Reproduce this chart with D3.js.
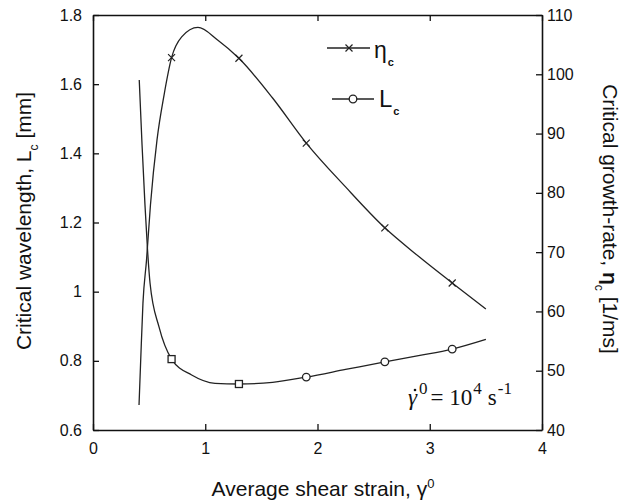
<!DOCTYPE html>
<html>
<head>
<meta charset="utf-8">
<script src="https://cdn.jsdelivr.net/npm/d3@7"></script>
<style>
  body { margin: 0; background: #fff; }
  text { font-family: "Liberation Sans", Arial, sans-serif; fill: #111; }
</style>
</head>
<body>
<script>
'use strict';

// critical growth-rate (right axis, 1/ms)
const etaStrain = [0.41, 0.425, 0.445, 0.477, 0.512, 0.57, 0.633, 0.7, 0.79, 0.935, 1.11, 1.3, 1.6, 1.9, 2.25, 2.6, 2.9, 3.2, 3.5];
const etaValues = [44.2, 51.8, 61.4, 68.7, 78.0, 88.9, 96.5, 102.8, 106.3, 107.9, 105.8, 102.7, 96.0, 88.4, 81.0, 74.1, 69.3, 64.8, 60.4];

// critical wavelength (left axis, mm)
const lcStrain = [0.412, 0.437, 0.463, 0.486, 0.508, 0.588, 0.7, 0.879, 1.087, 1.3, 1.6, 1.9, 2.25, 2.6, 2.9, 3.2, 3.5];
const lcValues = [1.612, 1.424, 1.251, 1.120, 1.025, 0.898, 0.805, 0.759, 0.735, 0.733, 0.738, 0.753, 0.775, 0.797, 0.815, 0.834, 0.862];

// points that carry a symbol
const markerStrain = [0.7, 1.3, 1.9, 2.6, 3.2];
const lcMarkerShape = ['square', 'square', 'circle', 'circle', 'circle'];

const xTicks = [0, 1, 2, 3, 4];
const xTickLabels = ['0', '1', '2', '3', '4'];
const leftTicks = [0.6, 0.8, 1.0, 1.2, 1.4, 1.6, 1.8];
const leftTickLabels = ['0.6', '0.8', '1', '1.2', '1.4', '1.6', '1.8'];
const rightTicks = [40, 50, 60, 70, 80, 90, 100, 110];
const rightTickLabels = ['40', '50', '60', '70', '80', '90', '100', '110'];

let margin = { top: 15, right: 79, bottom: 73, left: 93 };
let width = 621 - margin.left - margin.right;
let height = 503 - margin.top - margin.bottom;

let svg = d3.select('body')
    .append('svg')
    .attr('width', 621)
    .attr('height', 503);

let xScale = d3.scaleLinear().domain([0, 4]).range([margin.left, margin.left + width]);
let yLeft = d3.scaleLinear().domain([0.6, 1.8]).range([margin.top + height, margin.top]);
let yRight = d3.scaleLinear().domain([40, 110]).range([margin.top + height, margin.top]);

function styleAxis(g) {
    g.selectAll('.domain').attr('stroke', '#111').attr('stroke-width', 1.6);
    g.selectAll('.tick line').attr('stroke', '#111').attr('stroke-width', 1.3);
    g.selectAll('.tick text')
        .style('font-family', '"Liberation Sans", Arial, sans-serif')
        .style('font-size', '16px')
        .attr('fill', '#111');
}

// axes, ticks point inward
svg.append('g')
    .attr('transform', 'translate(0,' + (margin.top + height) + ')')
    .call(d3.axisBottom(xScale).tickValues(xTicks)
        .tickFormat((d, i) => xTickLabels[i]).tickSizeInner(-6).tickSizeOuter(0).tickPadding(13))
    .call(styleAxis);

svg.append('g')
    .attr('transform', 'translate(0,' + margin.top + ')')
    .call(d3.axisTop(xScale).tickValues(xTicks)
        .tickFormat('').tickSizeInner(-6).tickSizeOuter(0))
    .call(styleAxis);

svg.append('g')
    .attr('transform', 'translate(' + margin.left + ',0)')
    .call(d3.axisLeft(yLeft).tickValues(leftTicks)
        .tickFormat((d, i) => leftTickLabels[i]).tickSizeInner(-6).tickSizeOuter(0).tickPadding(11))
    .call(styleAxis);

svg.append('g')
    .attr('transform', 'translate(' + (margin.left + width) + ',0)')
    .call(d3.axisRight(yRight).tickValues(rightTicks)
        .tickFormat((d, i) => rightTickLabels[i]).tickSizeInner(-6).tickSizeOuter(0).tickPadding(5))
    .call(styleAxis);

// curves
let etaLine = d3.line()
    .x((d, i) => xScale(etaStrain[i]))
    .y((d) => yRight(d))
    .curve(d3.curveMonotoneX);

let lcLine = d3.line()
    .x((d, i) => xScale(lcStrain[i]))
    .y((d) => yLeft(d))
    .curve(d3.curveMonotoneX);

svg.append('path')
    .attr('d', etaLine(etaValues))
    .attr('fill', 'none')
    .attr('stroke', '#222')
    .attr('stroke-width', 1.3);

svg.append('path')
    .attr('d', lcLine(lcValues))
    .attr('fill', 'none')
    .attr('stroke', '#222')
    .attr('stroke-width', 1.3);

// symbols
let etaPts = markerStrain.map((s) => ({ x: s, y: etaValues[etaStrain.indexOf(s)] }));
let lcPts = markerStrain.map((s, i) => ({ x: s, y: lcValues[lcStrain.indexOf(s)], shape: lcMarkerShape[i] }));

function drawCross(g, cx, cy) {
    g.append('path')
        .attr('d', 'M' + (cx - 3.5) + ',' + (cy - 3.5) + 'L' + (cx + 3.5) + ',' + (cy + 3.5) +
                   'M' + (cx - 3.5) + ',' + (cy + 3.5) + 'L' + (cx + 3.5) + ',' + (cy - 3.5))
        .attr('stroke', '#222')
        .attr('stroke-width', 1.2);
}

function drawOpen(g, cx, cy, shape) {
    if (shape === 'square') {
        g.append('rect')
            .attr('x', cx - 3.5).attr('y', cy - 3.5)
            .attr('width', 7).attr('height', 7)
            .attr('fill', '#fff').attr('stroke', '#222').attr('stroke-width', 1.3);
    } else {
        g.append('circle')
            .attr('cx', cx).attr('cy', cy).attr('r', 3.8)
            .attr('fill', '#fff').attr('stroke', '#222').attr('stroke-width', 1.3);
    }
}

let marks = svg.append('g');
etaPts.forEach((p) => drawCross(marks, xScale(p.x), yRight(p.y)));
lcPts.forEach((p) => drawOpen(marks, xScale(p.x), yLeft(p.y), p.shape));

// legend
let legend = svg.append('g');
legend.append('line').attr('x1', 327).attr('x2', 370).attr('y1', 48).attr('y2', 48)
    .attr('stroke', '#222').attr('stroke-width', 1.3);
drawCross(legend, 349, 48);
let lt1 = legend.append('text').attr('x', 374).attr('y', 58).style('font-size', '23px');
lt1.append('tspan').text('\u03b7');
lt1.append('tspan').attr('dx', 1).attr('dy', 8).style('font-size', '11px').style('font-weight', 'bold').text('c');

legend.append('line').attr('x1', 332).attr('x2', 374).attr('y1', 99).attr('y2', 99)
    .attr('stroke', '#222').attr('stroke-width', 1.3);
drawOpen(legend, 353, 99, 'circle');
let lt2 = legend.append('text').attr('x', 379).attr('y', 107).style('font-size', '24px');
lt2.append('tspan').text('L');
lt2.append('tspan').attr('dx', 1).attr('dy', 8).style('font-size', '11px').style('font-weight', 'bold').text('c');

// shear rate note
let noteFont = '"Liberation Serif", "Times New Roman", serif';
let note = svg.append('text')
    .attr('x', 408).attr('y', 405)
    .style('font-family', noteFont)
    .style('font-size', '23px');
note.append('tspan').style('font-style', 'italic').text('\u03b3');
note.append('tspan').attr('dy', -11).attr('dx', 2).style('font-size', '17px').text('0');
note.append('tspan').attr('dy', 11).attr('dx', 3).text('= 10');
note.append('tspan').attr('dy', -11).attr('dx', 1).style('font-size', '17px').text('4');
note.append('tspan').attr('dy', 11).attr('dx', 6).text('s');
note.append('tspan').attr('dy', -11).attr('dx', 1).style('font-size', '17px').text('-1');
// dot over gamma
svg.append('circle')
    .attr('cx', 415).attr('cy', 390).attr('r', 1.3)
    .attr('fill', '#111');

// axis titles
let xt = svg.append('text')
    .attr('x', 323).attr('y', 496)
    .attr('text-anchor', 'middle')
    .style('font-size', '21px');
xt.append('tspan').text('Average shear strain, \u03b3');
xt.append('tspan').attr('dy', -8).style('font-size', '13px').text('0');

let lt = svg.append('text')
    .attr('transform', 'translate(31,221)rotate(-90)')
    .attr('text-anchor', 'middle')
    .style('font-size', '21px');
lt.append('tspan').text('Critical wavelength, L');
lt.append('tspan').attr('dy', 7).style('font-size', '12px').text('c');
lt.append('tspan').attr('dy', -7).text(' [mm]');

let rt = svg.append('text')
    .attr('transform', 'translate(603,219)rotate(90)')
    .attr('text-anchor', 'middle')
    .style('font-size', '21px');
rt.append('tspan').text('Critical growth-rate, ');
rt.append('tspan').style('font-weight', 'bold').text('\u03b7');
rt.append('tspan').attr('dy', 8).style('font-size', '12px').text('c');
rt.append('tspan').attr('dy', -8).text(' [1/ms]');
</script>
</body>
</html>
